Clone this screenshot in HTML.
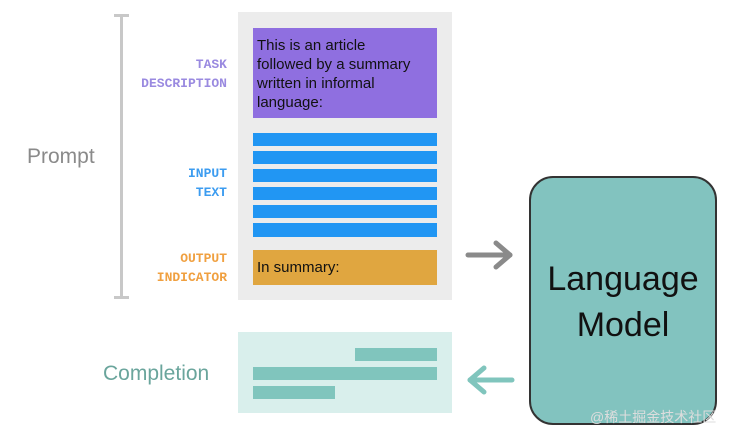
<!DOCTYPE html>
<html><head><meta charset="utf-8"><style>
body{margin:0;width:733px;height:433px;background:#fff;position:relative;overflow:hidden;font-family:"Liberation Sans",sans-serif}
div{position:absolute;box-sizing:border-box}
.lbl{font-family:"Liberation Mono",monospace;font-size:13px;font-weight:bold;text-align:right;right:506px;line-height:19px}
.b{left:253px;width:184px;height:13px;background:#2196f3}
.c{background:#80c5bd;height:13px}
</style></head><body>
<div style="left:120px;top:15px;width:3px;height:283px;background:#c8c8c8"></div>
<div style="left:114px;top:14px;width:15px;height:3px;background:#c8c8c8"></div>
<div style="left:114px;top:296px;width:15px;height:3px;background:#c8c8c8"></div>
<div style="left:27px;top:145px;font-size:21px;color:#8a8a8a">Prompt</div>
<div class="lbl" style="top:55px;color:#9a8ae0">TASK<br>DESCRIPTION</div>
<div class="lbl" style="top:164px;color:#3c9cf0">INPUT<br>TEXT</div>
<div class="lbl" style="top:249px;color:#f0a040">OUTPUT<br>INDICATOR</div>
<div style="left:238px;top:12px;width:214px;height:288px;background:#ececec"></div>
<div style="left:253px;top:28px;width:184px;height:90px;background:#8f6fe0;padding:8px 8px 8px 4px;font-size:15px;line-height:19px;color:#111">This is an article<br>followed by a summary<br>written in informal<br>language:</div>
<div class="b" style="top:133px"></div><div class="b" style="top:151px"></div><div class="b" style="top:169px"></div>
<div class="b" style="top:187px"></div><div class="b" style="top:205px"></div><div class="b" style="top:223px;height:14px"></div>
<div style="left:253px;top:250px;width:184px;height:35px;background:#e0a640;padding:9px 4px;font-size:15px;color:#111">In summary:</div>
<div style="left:103px;top:362px;font-size:21px;color:#6aa59c">Completion</div>
<div style="left:238px;top:332px;width:214px;height:81px;background:#d9efec"></div>
<div class="c" style="left:355px;top:348px;width:82px"></div>
<div class="c" style="left:253px;top:367px;width:184px"></div>
<div class="c" style="left:253px;top:386px;width:82px"></div>
<svg style="position:absolute;left:0;top:0" width="733" height="433">
<g stroke="#8a8a8a" stroke-width="5" fill="none" stroke-linecap="round" stroke-linejoin="round"><line x1="468" y1="255" x2="510" y2="255"/><polyline points="496,243 510,255 496,267"/></g>
<g stroke="#80c5bd" stroke-width="5" fill="none" stroke-linecap="round" stroke-linejoin="round"><line x1="470" y1="380" x2="512" y2="380"/><polyline points="484,368 470,380 484,392"/></g>
</svg>
<div style="left:529px;top:176px;width:188px;height:249px;background:#82c3bf;border:2px solid #333;border-radius:24px"></div>
<div style="left:529px;top:256px;width:188px;text-align:center;font-size:34px;line-height:46px;color:#111">Language<br>Model</div>
<div style="left:590px;top:407px;font-size:14px;color:#ddd;font-family:'Liberation Sans','Noto Sans CJK SC',sans-serif">@稀土掘金技术社区</div>
</body></html>
